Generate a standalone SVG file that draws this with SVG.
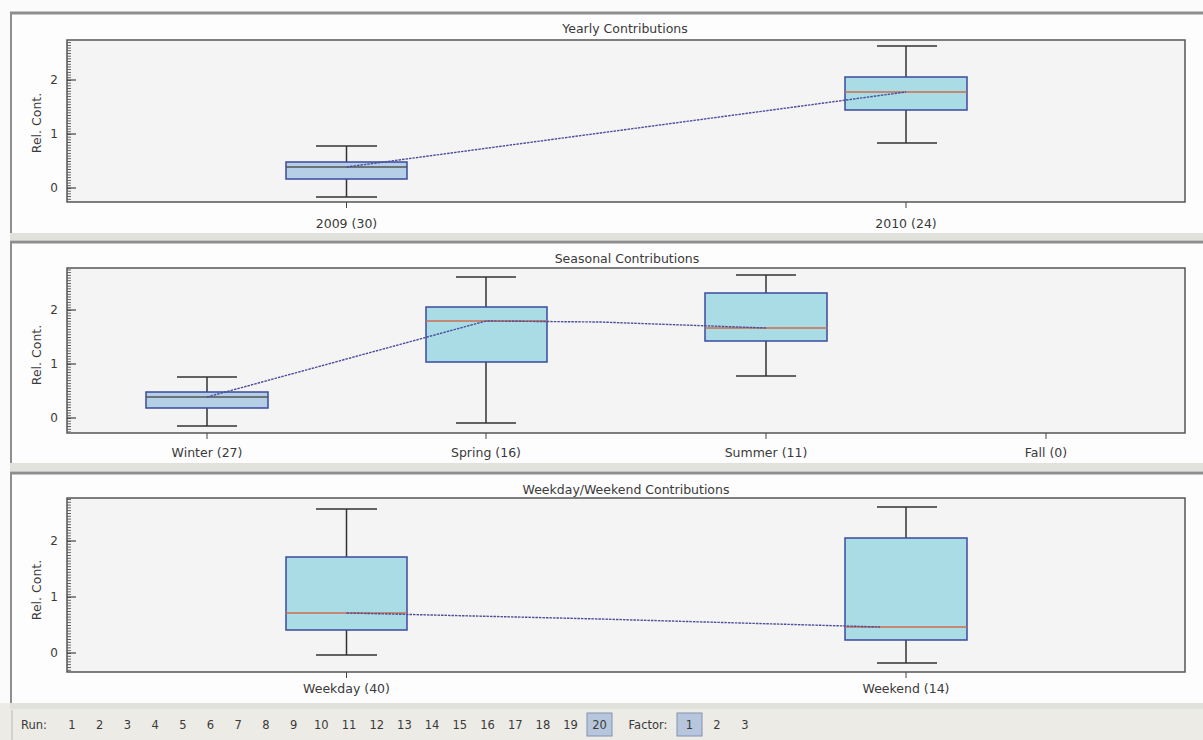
<svg xmlns="http://www.w3.org/2000/svg" width="1203" height="740" viewBox="0 0 1203 740">
<style>
.txt{font-family:"DejaVu Sans","Liberation Sans",sans-serif;fill:#3a3a3a;font-size:12.5px}
.title{text-anchor:middle;font-size:12.5px}
.cat{text-anchor:middle;font-size:12.5px}
.ytl{text-anchor:end;font-size:12px}
.tb{font-size:11.5px;text-anchor:middle}
.panel{fill:#fdfdfd}
.ptop{stroke:#8e8e8e;stroke-width:3}
.pleft{stroke:#8e8e8e;stroke-width:2}
.sep{fill:#e2e2dc}
.plot{fill:#f4f4f4;stroke:#555;stroke-width:1.5}
.box{fill:#a9dce5;stroke:#3b4a9c;stroke-width:1.5}
.boxs{fill:#b5cfe6;stroke:#3b4a9c;stroke-width:1.5}
.wh{stroke:#333;stroke-width:1.5;fill:none}
.med{stroke:#cc6e4e;stroke-width:1.5}
.trend{stroke:#4d4d9c;stroke-width:1.4;stroke-dasharray:2.5 1;fill:none}
.maj{stroke:#444;stroke-width:1.2}
.ctick{stroke:#444;stroke-width:1}
.hl{fill:#b7c6dc;stroke:#8392b2;stroke-width:1}
</style>
<defs>
<pattern id="r54" patternUnits="userSpaceOnUse" x="0" y="188" width="6" height="2.7">
<rect x="0" y="0" width="5" height="0.9" fill="#555"/>
</pattern>
<pattern id="r54b" patternUnits="userSpaceOnUse" x="0" y="418" width="6" height="2.7">
<rect x="0" y="0" width="5" height="0.9" fill="#555"/>
</pattern>
<pattern id="r56" patternUnits="userSpaceOnUse" x="0" y="653" width="6" height="2.8">
<rect x="0" y="0" width="5" height="0.9" fill="#555"/>
</pattern>
</defs>
<rect x="0" y="0" width="1203" height="740" fill="#fbfbfb"/>

<!-- Panel 1 -->
<g id="panel-yearly">
<rect class="panel" x="10" y="12" width="1193" height="221"/>
<line class="ptop" x1="10" y1="13" x2="1203" y2="13"/>
<line class="pleft" x1="11" y1="12" x2="11" y2="233"/>
<rect class="sep" x="10" y="233" width="1193" height="7"/>
<text class="txt title" x="625" y="33">Yearly Contributions</text>
<rect class="plot" x="67" y="40" width="1118" height="162"/>
<rect x="67" y="41" width="5" height="160" fill="url(#r54)"/>
<line class="maj" x1="67" y1="188" x2="76" y2="188"/>
<line class="maj" x1="67" y1="134" x2="76" y2="134"/>
<line class="maj" x1="67" y1="80" x2="76" y2="80"/>
<text class="txt ytl" x="58" y="192">0</text>
<text class="txt ytl" x="58" y="138">1</text>
<text class="txt ytl" x="58" y="84">2</text>
<text class="txt" x="0" y="0" text-anchor="middle" transform="translate(41,123) rotate(-90)">Rel. Cont.</text>
<line class="ctick" x1="346.5" y1="202" x2="346.5" y2="208"/>
<line class="ctick" x1="906" y1="202" x2="906" y2="208"/>
<text class="txt cat" x="346.5" y="228">2009 (30)</text>
<text class="txt cat" x="906" y="228">2010 (24)</text>
</g>
<g id="box-2009">
<path class="wh" d="M346.5 146V162M346.5 179V197M316 146H377M316 197H377"/>
<rect class="boxs" x="286" y="162" width="121" height="17"/>
<line class="med" x1="286" y1="167" x2="407" y2="167" style="stroke:#555"/>
</g>
<g id="box-2010">
<path class="wh" d="M906 46V77M906 110V143M877 46H937M877 143H937"/>
<rect class="box" x="845" y="77" width="122" height="33"/>
<line class="med" x1="845" y1="92" x2="967" y2="92"/>
</g>

<!-- Panel 2 -->
<g id="panel-seasonal">
<rect class="panel" x="10" y="241" width="1193" height="222"/>
<line class="ptop" x1="10" y1="242" x2="1203" y2="242"/>
<line class="pleft" x1="11" y1="241" x2="11" y2="463"/>
<rect class="sep" x="10" y="463" width="1193" height="8"/>
<text class="txt title" x="627" y="263">Seasonal Contributions</text>
<rect class="plot" x="67" y="268" width="1118" height="165"/>
<rect x="67" y="269" width="5" height="163" fill="url(#r54b)"/>
<line class="maj" x1="67" y1="418" x2="76" y2="418"/>
<line class="maj" x1="67" y1="364" x2="76" y2="364"/>
<line class="maj" x1="67" y1="310" x2="76" y2="310"/>
<text class="txt ytl" x="58" y="422">0</text>
<text class="txt ytl" x="58" y="368">1</text>
<text class="txt ytl" x="58" y="314">2</text>
<text class="txt" x="0" y="0" text-anchor="middle" transform="translate(41,355) rotate(-90)">Rel. Cont.</text>
<line class="ctick" x1="207" y1="433" x2="207" y2="439"/>
<line class="ctick" x1="486" y1="433" x2="486" y2="439"/>
<line class="ctick" x1="766" y1="433" x2="766" y2="439"/>
<line class="ctick" x1="1046" y1="433" x2="1046" y2="439"/>
<text class="txt cat" x="207" y="457">Winter (27)</text>
<text class="txt cat" x="486" y="457">Spring (16)</text>
<text class="txt cat" x="766" y="457">Summer (11)</text>
<text class="txt cat" x="1046" y="457">Fall (0)</text>
</g>
<g id="box-winter">
<path class="wh" d="M207 377V392M207 408V426M177 377H237M177 426H237"/>
<rect class="boxs" x="146" y="392" width="122" height="16"/>
<line class="med" x1="146" y1="397" x2="268" y2="397" style="stroke:#555"/>
</g>
<g id="box-spring">
<path class="wh" d="M486 277V307M486 362V423M456 277H516M456 423H516"/>
<rect class="box" x="426" y="307" width="121" height="55"/>
<line class="med" x1="426" y1="321" x2="547" y2="321"/>
</g>
<g id="box-summer">
<path class="wh" d="M766 275V293M766 341V376M736 275H796M736 376H796"/>
<rect class="box" x="705" y="293" width="122" height="48"/>
<line class="med" x1="705" y1="328" x2="827" y2="328"/>
</g>

<!-- Panel 3 -->
<g id="panel-weekday">
<rect class="panel" x="10" y="472" width="1193" height="231"/>
<line class="ptop" x1="10" y1="473" x2="1203" y2="473"/>
<line class="pleft" x1="11" y1="472" x2="11" y2="703"/>
<text class="txt title" x="626" y="494">Weekday/Weekend Contributions</text>
<rect class="plot" x="67" y="498" width="1118" height="174"/>
<rect x="67" y="499" width="5" height="172" fill="url(#r56)"/>
<line class="maj" x1="67" y1="653" x2="76" y2="653"/>
<line class="maj" x1="67" y1="597" x2="76" y2="597"/>
<line class="maj" x1="67" y1="541" x2="76" y2="541"/>
<text class="txt ytl" x="58" y="657">0</text>
<text class="txt ytl" x="58" y="601">1</text>
<text class="txt ytl" x="58" y="545">2</text>
<text class="txt" x="0" y="0" text-anchor="middle" transform="translate(41,590) rotate(-90)">Rel. Cont.</text>
<line class="ctick" x1="346.5" y1="672" x2="346.5" y2="678"/>
<line class="ctick" x1="906" y1="672" x2="906" y2="678"/>
<text class="txt cat" x="346.5" y="693">Weekday (40)</text>
<text class="txt cat" x="906" y="693">Weekend (14)</text>
</g>
<g id="box-weekday">
<path class="wh" d="M346.5 509V557M346.5 630V655M316 509H377M316 655H377"/>
<rect class="box" x="286" y="557" width="121" height="73"/>
<line class="med" x1="286" y1="613" x2="407" y2="613"/>
</g>
<g id="box-weekend">
<path class="wh" d="M906 507V538M906 640V663M877 507H937M877 663H937"/>
<rect class="box" x="845" y="538" width="122" height="102"/>
<line class="med" x1="845" y1="627" x2="967" y2="627"/>
</g>

<!-- Connectors (trend lines) -->
<g id="connectors">
<path class="trend" d="M346.5 167L906 92"/>
<path class="trend" d="M207 397L486 321L600 322L766 328"/>
<path class="trend" d="M346.5 613L600 619L880 627"/>
</g>

<!-- Toolbar -->
<g id="toolbar">
<rect x="0" y="703" width="1203" height="37" fill="#ecebe5"/>
<rect x="10" y="703" width="1193" height="6" fill="#e2e2dc"/>
<line x1="12" y1="710" x2="12" y2="740" stroke="#b8b8b0" stroke-width="1"/>
<rect class="hl" x="587" y="713" width="25" height="23"/>
<rect class="hl" x="677" y="713" width="25" height="23"/>
<text class="txt tb" x="34" y="729">Run:</text>
<text class="txt tb" x="72" y="729">1</text>
<text class="txt tb" x="99.7" y="729">2</text>
<text class="txt tb" x="127.4" y="729">3</text>
<text class="txt tb" x="155.1" y="729">4</text>
<text class="txt tb" x="182.8" y="729">5</text>
<text class="txt tb" x="210.5" y="729">6</text>
<text class="txt tb" x="238.2" y="729">7</text>
<text class="txt tb" x="265.9" y="729">8</text>
<text class="txt tb" x="293.6" y="729">9</text>
<text class="txt tb" x="321.3" y="729">10</text>
<text class="txt tb" x="349" y="729">11</text>
<text class="txt tb" x="376.7" y="729">12</text>
<text class="txt tb" x="404.4" y="729">13</text>
<text class="txt tb" x="432.1" y="729">14</text>
<text class="txt tb" x="459.8" y="729">15</text>
<text class="txt tb" x="487.5" y="729">16</text>
<text class="txt tb" x="515.2" y="729">17</text>
<text class="txt tb" x="542.9" y="729">18</text>
<text class="txt tb" x="570.6" y="729">19</text>
<text class="txt tb" x="599.5" y="729">20</text>
<text class="txt tb" x="648" y="729">Factor:</text>
<text class="txt tb" x="689.5" y="729">1</text>
<text class="txt tb" x="717" y="729">2</text>
<text class="txt tb" x="745" y="729">3</text>
</g>
</svg>
